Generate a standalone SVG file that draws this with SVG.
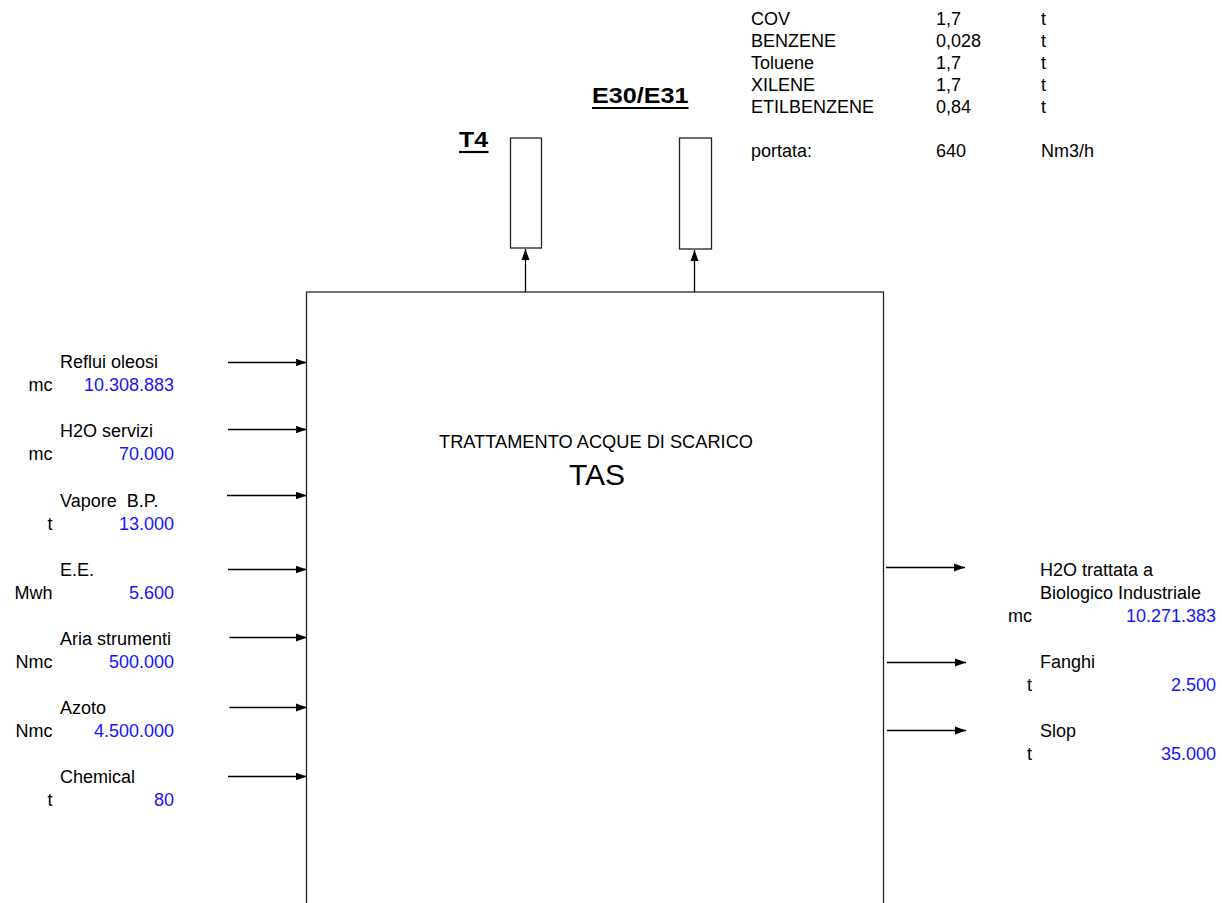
<svg xmlns="http://www.w3.org/2000/svg" width="1222" height="903" viewBox="0 0 1222 903">
<defs>
<style>
text{font-family:"Liberation Sans",Arial,sans-serif;font-size:18px;fill:#000}
.v{fill:#1414ff;text-anchor:end}
.u{text-anchor:end}
.ttl{font-weight:bold;font-size:22px}
.ul{stroke:#000;stroke-width:2.2}
.box{fill:#fff;stroke:#222;stroke-width:1.3}
.con{stroke:#000;stroke-width:1.3;fill:none;marker-end:url(#ah)}
</style>
<marker id="ah" markerWidth="12" markerHeight="10" refX="11" refY="5" orient="auto" markerUnits="userSpaceOnUse"><path d="M0,1 L11,5 L0,9 z" fill="#000"/></marker>
</defs>
<rect width="1222" height="903" fill="#fff"/>

<g id="tas">
<rect class="box" x="306.5" y="292" width="577" height="640"/>
<text x="596" y="448" text-anchor="middle" textLength="314" lengthAdjust="spacingAndGlyphs">TRATTAMENTO ACQUE DI SCARICO</text>
<text x="597" y="485" text-anchor="middle" style="font-size:30px">TAS</text>
</g>

<g id="t4">
<rect class="box" x="510.5" y="138" width="31" height="110"/>
<text class="ttl" x="459" y="147" textLength="29" lengthAdjust="spacingAndGlyphs">T4</text>
<line class="ul" x1="459" y1="152" x2="488.5" y2="152"/>
</g>

<g id="e30">
<rect class="box" x="679.5" y="138" width="32" height="111"/>
<text class="ttl" x="592" y="103" textLength="96.5" lengthAdjust="spacingAndGlyphs">E30/E31</text>
<line class="ul" x1="592" y1="108" x2="688.5" y2="108"/>
</g>

<g id="emissioni">
<text x="751" y="25">COV</text><text x="936" y="25">1,7</text><text x="1041" y="25">t</text>
<text x="751" y="47">BENZENE</text><text x="936" y="47">0,028</text><text x="1041" y="47">t</text>
<text x="751" y="69">Toluene</text><text x="936" y="69">1,7</text><text x="1041" y="69">t</text>
<text x="751" y="91">XILENE</text><text x="936" y="91">1,7</text><text x="1041" y="91">t</text>
<text x="751" y="113">ETILBENZENE</text><text x="936" y="113">0,84</text><text x="1041" y="113">t</text>
<text x="751" y="157">portata:</text><text x="936" y="157">640</text><text x="1041" y="157">Nm3/h</text>
</g>

<g id="in-reflui"><text x="60" y="368">Reflui oleosi</text><text class="u" x="52.5" y="391">mc</text><text class="v" x="174" y="391">10.308.883</text></g>
<g id="in-h2o"><text x="60" y="437">H2O servizi</text><text class="u" x="52.5" y="460">mc</text><text class="v" x="174" y="460">70.000</text></g>
<g id="in-vapore"><text x="60" y="507">Vapore&#160; B.P.</text><text class="u" x="52.5" y="530">t</text><text class="v" x="174" y="530">13.000</text></g>
<g id="in-ee"><text x="60" y="576">E.E.</text><text class="u" x="52.5" y="599">Mwh</text><text class="v" x="174" y="599">5.600</text></g>
<g id="in-aria"><text x="60" y="645">Aria strumenti</text><text class="u" x="52.5" y="668">Nmc</text><text class="v" x="174" y="668">500.000</text></g>
<g id="in-azoto"><text x="60" y="714">Azoto</text><text class="u" x="52.5" y="737">Nmc</text><text class="v" x="174" y="737">4.500.000</text></g>
<g id="in-chemical"><text x="60" y="783">Chemical</text><text class="u" x="52.5" y="806">t</text><text class="v" x="174" y="806">80</text></g>

<g id="out-h2o"><text x="1040" y="576">H2O trattata a</text><text x="1040" y="599">Biologico Industriale</text><text class="u" x="1032" y="622">mc</text><text class="v" x="1216" y="622">10.271.383</text></g>
<g id="out-fanghi"><text x="1040" y="668">Fanghi</text><text class="u" x="1032" y="691">t</text><text class="v" x="1216" y="691">2.500</text></g>
<g id="out-slop"><text x="1040" y="737">Slop</text><text class="u" x="1032" y="760">t</text><text class="v" x="1216" y="760">35.000</text></g>

<g id="connectors">
<line class="con" x1="525.5" y1="292" x2="525.5" y2="249"/>
<line class="con" x1="694.5" y1="292" x2="694.5" y2="250"/>
<line class="con" x1="228" y1="362.5" x2="306.5" y2="362.5"/>
<line class="con" x1="228" y1="429.5" x2="306.5" y2="429.5"/>
<line class="con" x1="227" y1="495.5" x2="306.5" y2="495.5"/>
<line class="con" x1="228" y1="569.5" x2="306.5" y2="569.5"/>
<line class="con" x1="229.5" y1="637.5" x2="307" y2="637.5"/>
<line class="con" x1="229.5" y1="707.5" x2="307" y2="707.5"/>
<line class="con" x1="228" y1="776.5" x2="306.5" y2="776.5"/>
<line class="con" x1="886" y1="567.5" x2="965" y2="567.5"/>
<line class="con" x1="887" y1="662.5" x2="966" y2="662.5"/>
<line class="con" x1="887" y1="730.5" x2="966" y2="730.5"/>
</g>
</svg>
